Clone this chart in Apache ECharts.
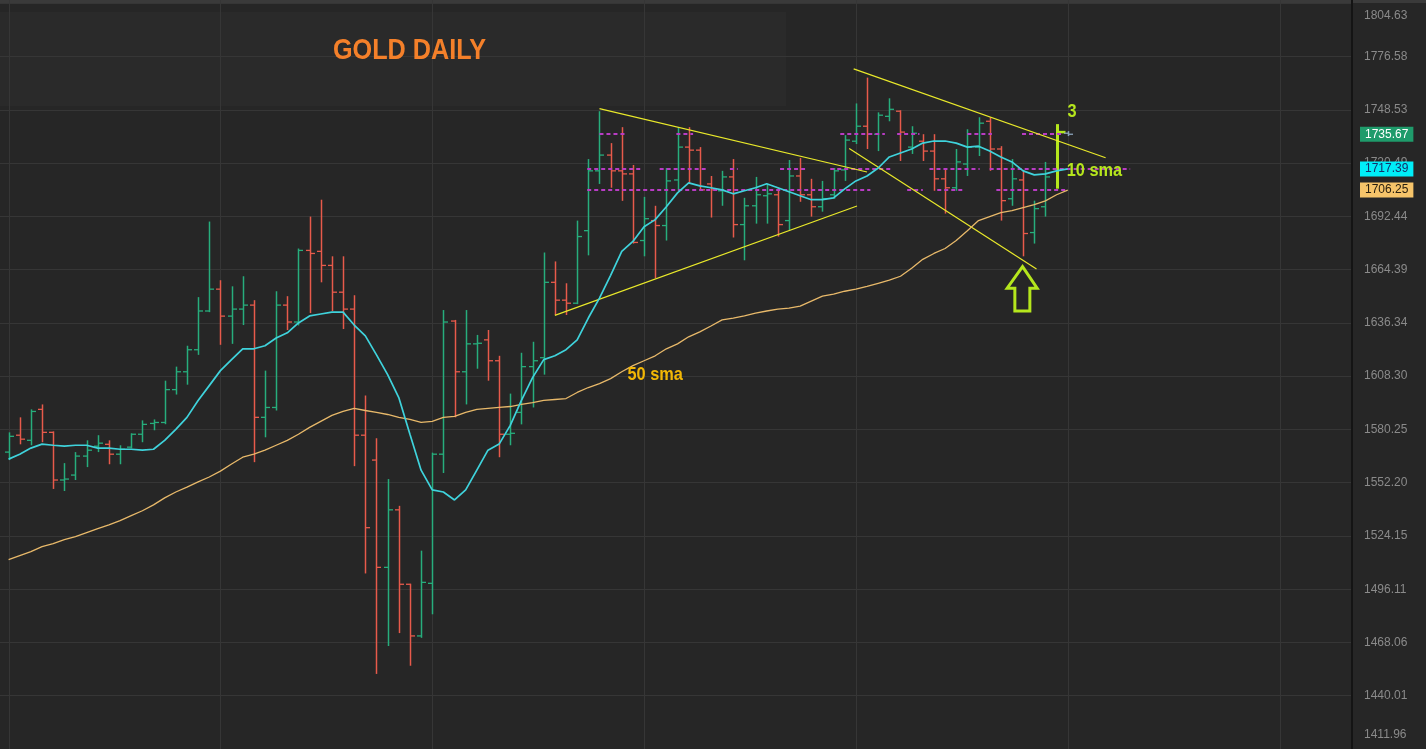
<!DOCTYPE html>
<html><head><meta charset="utf-8">
<script src="https://cdn.jsdelivr.net/npm/echarts@6/dist/echarts.min.js"></script>
<style>html,body{margin:0;padding:0;background:#262626;overflow:hidden}#c{width:1426px;height:749px}</style>
</head><body><div id="c"></div>
<script>
// ---- data ----
const opens = [1568.3,1577.2,1574.5,1590.8,1578.7,1553.6,1556.2,1566.2,1571.4,1572.4,
1567.2,1570.9,1577.7,1583.4,1583.9,1601.2,1610.6,1622.2,1642.6,1654.1,
1639.9,1643.6,1645.7,1586.6,1591.8,1645.7,1636.8,1674.5,1674.0,1666.6,
1652.5,1643.6,1577.2,1564.1,1507.6,1537.9,1498.7,1471.5,1499.2,1567.2,
1637.3,1610.6,1625.3,1627.4,1616.4,1577.7,1589.2,1613.3,1618.0,1657.7,
1648.3,1646.7,1684.9,1716.4,1724.7,1716.4,1714.8,1679.7,1690.2,1687.6,
1711.6,1728.9,1727.3,1709.5,1705.9,1713.2,1688.1,1698.0,1703.3,1703.8,
1690.2,1713.7,1703.8,1697.5,1703.8,1716.9,1732.0,1739.9,1735.7,1745.1,
1747.8,1728.9,1732.0,1726.8,1712.2,1707.5,1720.0,1728.9,1742.5,1727.9,
1701.7,1711.6,1683.9,1697.5,1713.2,1736.2];
const highs = [1578.7,1586.6,1590.8,1593.4,1579.2,1562.5,1568.3,1574.5,1577.2,1574.5,
1571.9,1578.2,1585.0,1585.5,1605.9,1613.3,1624.3,1649.9,1689.7,1658.8,
1655.6,1660.9,1648.3,1611.2,1653.0,1650.4,1675.5,1692.3,1701.2,1671.4,
1671.4,1650.9,1598.1,1575.6,1554.1,1540.0,1499.0,1516.4,1568.0,1643.1,
1637.9,1643.1,1630.0,1632.6,1619.0,1599.1,1620.6,1626.4,1673.4,1668.7,
1657.2,1690.2,1722.6,1747.8,1731.0,1739.4,1719.5,1702.7,1698.0,1717.9,
1739.4,1739.4,1728.9,1713.7,1716.4,1722.6,1702.2,1713.2,1709.6,1707.5,
1722.1,1723.2,1712.2,1711.1,1717.9,1735.2,1751.9,1765.5,1747.2,1754.6,
1748.3,1739.9,1735.7,1735.7,1717.4,1727.9,1738.3,1744.6,1744.6,1729.4,
1722.6,1716.9,1700.7,1721.1,1741.0,1737.3];
const lows = [1564.1,1572.4,1571.9,1573.5,1548.9,1547.8,1553.6,1560.4,1568.3,1561.9,
1561.9,1570.3,1573.5,1579.8,1583.0,1598.6,1603.8,1619.5,1642.0,1624.8,
1625.3,1635.2,1563.0,1576.1,1590.2,1632.6,1635.0,1641.5,1657.7,1642.6,
1633.1,1560.9,1504.4,1451.5,1466.2,1473.0,1455.8,1470.5,1482.9,1557.3,
1586.6,1593.4,1612.2,1605.9,1565.6,1571.9,1582.9,1591.8,1609.1,1640.5,
1640.5,1646.2,1671.9,1709.5,1707.5,1700.6,1678.1,1671.4,1659.8,1679.7,
1705.9,1709.5,1705.9,1691.8,1698.0,1681.3,1669.3,1688.6,1688.6,1681.8,
1685.0,1700.1,1692.3,1694.9,1701.7,1711.1,1730.5,1727.9,1726.8,1742.5,
1721.6,1725.3,1721.6,1705.9,1693.9,1705.9,1713.7,1724.2,1716.4,1690.2,
1698.0,1671.4,1678.1,1692.3,1707.0,1734.7];
const closes = [1576.6,1575.1,1589.7,1578.7,1553.6,1554.1,1566.2,1569.3,1573.0,1567.2,
1569.8,1577.7,1582.9,1583.9,1601.2,1610.6,1622.2,1642.6,1654.1,1639.9,
1643.6,1645.7,1586.6,1591.8,1645.7,1636.8,1674.5,1672.9,1666.6,1652.5,
1643.6,1577.2,1528.5,1507.6,1537.9,1498.7,1471.5,1499.7,1567.2,1636.8,
1610.6,1625.3,1625.6,1616.4,1577.7,1578.2,1613.3,1616.4,1657.7,1648.3,
1646.7,1681.8,1716.4,1724.7,1716.4,1714.8,1678.7,1691.2,1687.6,1711.1,
1728.9,1727.3,1706.4,1706.4,1713.2,1688.1,1698.0,1703.8,1704.3,1688.1,
1713.7,1703.8,1697.5,1701.7,1716.4,1732.6,1739.9,1735.7,1745.7,1748.8,
1736.8,1736.2,1726.8,1712.2,1707.5,1721.1,1728.9,1741.5,1727.9,1700.7,
1712.2,1683.4,1696.5,1713.2,1736.8,1735.67];
const sma10 = [1564.6,1567.2,1570.4,1572.5,1571.9,1571.4,1571.9,1571.9,1570.4,1570.4,
1569.8,1569.8,1569.3,1569.8,1574.5,1580.3,1586.6,1595.5,1603.3,1611.2,
1617.0,1622.7,1622.7,1624.3,1628.4,1631.1,1636.3,1640.0,1641.0,1642.0,
1642.0,1635.2,1629.5,1619.5,1609.1,1597.0,1577.7,1558.8,1548.4,1547.3,
1543.1,1548.4,1558.8,1569.3,1572.5,1582.4,1595.5,1607.5,1617.0,1619.0,
1622.2,1627.4,1638.9,1649.4,1661.4,1674.0,1679.2,1687.0,1690.7,1697.5,
1704.8,1710.1,1708.5,1707.5,1706.4,1704.3,1705.9,1707.5,1709.6,1707.5,
1705.4,1703.3,1701.2,1701.2,1702.2,1706.9,1711.1,1713.7,1717.9,1723.7,
1725.8,1727.9,1731.0,1732.1,1732.1,1731.0,1728.9,1729.4,1726.8,1723.7,
1721.1,1716.4,1714.3,1714.8,1716.4,1717.39];
const sma50 = [1511.7,1513.8,1515.9,1518.5,1520.1,1522.2,1523.8,1525.9,1528.0,1530.0,
1532.2,1534.8,1537.4,1540.5,1544.2,1547.3,1549.9,1552.6,1555.2,1558.3,
1562.0,1565.6,1567.2,1569.3,1571.9,1574.5,1577.7,1581.3,1584.5,1587.6,
1589.7,1591.3,1590.2,1589.2,1588.1,1586.6,1585.5,1583.9,1584.5,1586.6,
1587.1,1589.2,1590.8,1591.3,1591.8,1592.3,1593.4,1594.4,1595.5,1596.0,
1596.5,1599.7,1602.3,1604.4,1607.0,1610.6,1613.8,1616.4,1619.0,1622.7,
1625.3,1629.0,1631.6,1634.7,1637.9,1638.9,1640.0,1641.5,1642.6,1643.6,
1644.1,1645.2,1647.8,1650.4,1651.5,1653.0,1654.1,1655.6,1657.2,1658.8,
1660.9,1665.1,1669.8,1672.9,1675.5,1679.7,1684.9,1690.2,1692.3,1694.4,
1695.4,1697.0,1698.6,1700.6,1703.8,1706.25];
const tickLabels = ['1411.96','1440.01','1468.06','1496.11','1524.15','1552.20','1580.25',
'1608.30','1636.34','1664.39','1692.44','1720.49','1748.53','1776.58','1804.63'];
const lastPrice = 1735.67, lastSma10 = 1717.39, lastSma50 = 1706.25;
const gridBars = [0, 19, 38, 57, 76, 95, 114];
const highlightBar = 94, currentBar = 95;
// trend lines: [barIndex0, price0, barIndex1, price1]
const trendLines = [[53.0,1749.2,77.0,1715.8],[49.0,1640.3,76.1,1697.9],[75.8,1770.1,98.4,1723.3],[75.4,1728.2,92.2,1664.7]];
// dashed level segments: [barIndexFrom, barIndexTo]
const lastLevelSegs = [[53.0,55.5],[59.9,61.4],[74.6,78.6],[79.7,81.7],[86.0,88.2],[90.9,94.6]];
const sma10LevelSegs = [[51.9,56.8],[58.4,62.6],[64.7,65.4],[69.2,71.6],[73.7,79.1],[82.6,87.1],[88.0,100.6]];
const sma50LevelSegs = [[51.9,77.3],[80.6,82.0],[83.3,85.6],[88.6,91.6],[91.9,95.0]];
const noteAnchors = { sma50: [58.0, 1609.1], sma10: [97.4, 1716.4], wave: [95.4, 1747.7], arrow: [90.95, 1666.0] };

// ---- axis range ----
const priceMin = 1411.96, priceMax = 1806.36;
const priceStep = (1804.63 - 1411.96) / 14;

const GREEN = '#27ad7c', RED = '#e75a4b', LIME = '#b5e61d';
const ohlc = opens.map((o, i) => [i, o, highs[i], lows[i], closes[i]]);
const levelData = [];
lastLevelSegs.forEach(s => levelData.push([s[0], s[1], lastPrice]));
sma10LevelSegs.forEach(s => levelData.push([s[0], s[1], lastSma10]));
sma50LevelSegs.forEach(s => levelData.push([s[0], s[1], lastSma50]));

const chart = echarts.init(document.getElementById('c'), null, {renderer: 'canvas'});
const FONT = '"Liberation Sans", Arial, sans-serif';

const option = {
  backgroundColor: '#262626',
  animation: false,
  grid: {left: 0, right: 74, top: 0, bottom: -4.7},
  xAxis: [{type: 'value', min: -0.77, max: 120.5, show: false}],
  yAxis: [
    {type: 'value', min: priceMin, max: priceMax, show: false, position: 'right'},
    {type: 'value', min: 0, max: (priceMax - priceMin) / priceStep, interval: 1, position: 'right',
      axisLine: {show: true, lineStyle: {color: '#141414', width: 2}},
      axisTick: {show: false},
      splitLine: {show: true, showMaxLine: false, lineStyle: {color: '#363636', width: 1}},
      axisLabel: {
        color: '#8a8a8a', fontSize: 12, fontFamily: FONT, margin: 12,
        formatter: v => {
          const k = Math.round(v);
          if (Math.abs(v - k) > 1e-6 || !tickLabels[k]) return '';
          if (k === 0) return '{b|' + tickLabels[k] + '}';
          if (k === tickLabels.length - 1) return '{t|' + tickLabels[k] + '}';
          return tickLabels[k];
        },
        rich: {
          t: {color: '#8a8a8a', fontSize: 12, fontFamily: FONT, padding: [25, 0, 0, 0]},
          b: {color: '#8a8a8a', fontSize: 12, fontFamily: FONT, padding: [0, 0, 28, 0]}
        }
      }
    }
  ],
  series: [
    { // vertical grid lines
      type: 'custom', silent: true, xAxisIndex: 0, yAxisIndex: 0,
      data: gridBars.map(v => [v, priceMin]), encode: {x: 0, y: 1}, clip: false,
      renderItem: (params, api) => {
        const a = api.coord([api.value(0), priceMax]);
        const b = api.coord([api.value(0), priceMin]);
        return {type: 'line', shape: {x1: Math.round(a[0]) + 0.5, y1: a[1], x2: Math.round(a[0]) + 0.5, y2: b[1]},
          style: {stroke: '#363636', lineWidth: 1}};
      }
    },
    { // OHLC bars
      type: 'custom', silent: true, xAxisIndex: 0, yAxisIndex: 0,
      data: ohlc, encode: {x: 0, y: [1, 2, 3, 4]},
      renderItem: (params, api) => {
        const i = api.value(0);
        const o = api.coord([i, api.value(1)]);
        const h = api.coord([i, api.value(2)]);
        const l = api.coord([i, api.value(3)]);
        const c = api.coord([i, api.value(4)]);
        let color = api.value(4) >= api.value(1) ? GREEN : RED;
        let w = 1.5, tl = 4.5, tr = 4.5;
        if (i === highlightBar) { color = LIME; w = 3; tl = 0; tr = 8; }
        if (i === currentBar) { color = '#8aa3ba'; }
        const x = Math.round(h[0]) + 0.5;
        const kids = [
          {type: 'line', shape: {x1: x, y1: h[1], x2: x, y2: l[1]}, style: {stroke: color, lineWidth: w}},
          {type: 'line', shape: {x1: x, y1: c[1], x2: x + tr, y2: c[1]}, style: {stroke: color, lineWidth: i === highlightBar ? 2.5 : 1.3}}
        ];
        if (tl > 0) kids.push({type: 'line', shape: {x1: x - tl, y1: o[1], x2: x, y2: o[1]}, style: {stroke: color, lineWidth: 1.3}});
        return {type: 'group', children: kids};
      }
    },
    { type: 'line', name: '50 sma', xAxisIndex: 0, yAxisIndex: 0, data: sma50.map((v, i) => [i, v]),
      showSymbol: false, silent: true, lineStyle: {color: '#e8b96a', width: 1.3} },
    { type: 'line', name: '10 sma', xAxisIndex: 0, yAxisIndex: 0, data: sma10.map((v, i) => [i, v]),
      showSymbol: false, silent: true, lineStyle: {color: '#3fd3dc', width: 1.7},
      markLine: {
        silent: true, symbol: 'none', animation: false,
        data: [
          {yAxis: lastPrice, lineStyle: {color: 'transparent', width: 0},
            label: {show: true, position: 'end', distance: 8, formatter: lastPrice.toFixed(2), color: '#ffffff',
              backgroundColor: '#1f9b6b', padding: [2, 5, 1, 5], fontSize: 12, fontFamily: FONT}},
          {yAxis: lastSma10, lineStyle: {color: 'transparent', width: 0},
            label: {show: true, position: 'end', distance: 8, formatter: lastSma10.toFixed(2), color: '#14306a',
              backgroundColor: '#00eef8', padding: [2, 5, 1, 5], fontSize: 12, fontFamily: FONT}},
          {yAxis: lastSma50, lineStyle: {color: 'transparent', width: 0},
            label: {show: true, position: 'end', distance: 8, formatter: lastSma50.toFixed(2), color: '#2a2010',
              backgroundColor: '#f6c46a', padding: [2, 5, 1, 5], fontSize: 12, fontFamily: FONT}}
        ]
      }
    },
    { // dashed level lines
      type: 'custom', silent: true, xAxisIndex: 0, yAxisIndex: 0,
      data: levelData, encode: {x: [0, 1], y: 2}, clip: false,
      renderItem: (params, api) => {
        const a = api.coord([api.value(0), api.value(2)]);
        const b = api.coord([api.value(1), api.value(2)]);
        const y = Math.round(a[1]);
        return {type: 'line', shape: {x1: a[0], y1: y, x2: b[0], y2: y},
          style: {stroke: '#b83cc4', lineWidth: 2, lineDash: [4, 3]}};
      }
    },
    { // trend lines
      type: 'custom', silent: true, xAxisIndex: 0, yAxisIndex: 0,
      data: trendLines, encode: {x: [0, 2], y: [1, 3]}, clip: false,
      renderItem: (params, api) => {
        const a = api.coord([api.value(0), api.value(1)]);
        const b = api.coord([api.value(2), api.value(3)]);
        return {type: 'line', shape: {x1: a[0], y1: a[1], x2: b[0], y2: b[1]},
          style: {stroke: '#e9e92a', lineWidth: 1.2}};
      }
    }
  ]
};
chart.setOption(option);

const px = p => chart.convertToPixel({seriesIndex: 1}, p);
const s50 = px(noteAnchors.sma50), s10 = px(noteAnchors.sma10), wv = px(noteAnchors.wave), ar = px(noteAnchors.arrow);
const BOLD = s => 'bold ' + s + 'px "Liberation Sans", Arial, sans-serif';
const arrowShape = [[0,0],[14.6,21.7],[7.3,21.7],[7.3,44.4],[-7.7,44.4],[-7.7,21.7],[-15.4,21.7]];
chart.setOption({
  graphic: [
    {type: 'rect', z: -10, silent: true, shape: {x: 0, y: 0, width: 1426, height: 3}, style: {fill: '#3a3a3a'}},
    {type: 'rect', z: -10, silent: true, shape: {x: 0, y: 12, width: 786, height: 94}, style: {fill: 'rgba(255,255,255,0.018)'}},
    {type: 'text', z: 100, x: 333, y: 51, scaleX: 0.84, silent: true,
      style: {text: 'GOLD DAILY', fill: '#f4802a', font: BOLD(30), textAlign: 'left', textVerticalAlign: 'middle'}},
    {type: 'text', z: 100, x: s50[0], y: s50[1], scaleX: 0.86, silent: true,
      style: {text: '50 sma', fill: '#f2b705', font: BOLD(19), textAlign: 'center', textVerticalAlign: 'middle'}},
    {type: 'text', z: 100, x: s10[0], y: s10[1], scaleX: 0.86, silent: true,
      style: {text: '10 sma', fill: LIME, font: BOLD(19), textAlign: 'center', textVerticalAlign: 'middle'}},
    {type: 'text', z: 100, x: wv[0], y: wv[1], scaleX: 0.86, silent: true,
      style: {text: '3', fill: LIME, font: BOLD(19), textAlign: 'center', textVerticalAlign: 'middle'}},
    {type: 'polygon', z: 100, silent: true, x: ar[0], y: ar[1],
      shape: {points: arrowShape}, style: {fill: 'none', stroke: LIME, lineWidth: 3, lineJoin: 'miter'}}
  ]
});
</script>
</body></html>
